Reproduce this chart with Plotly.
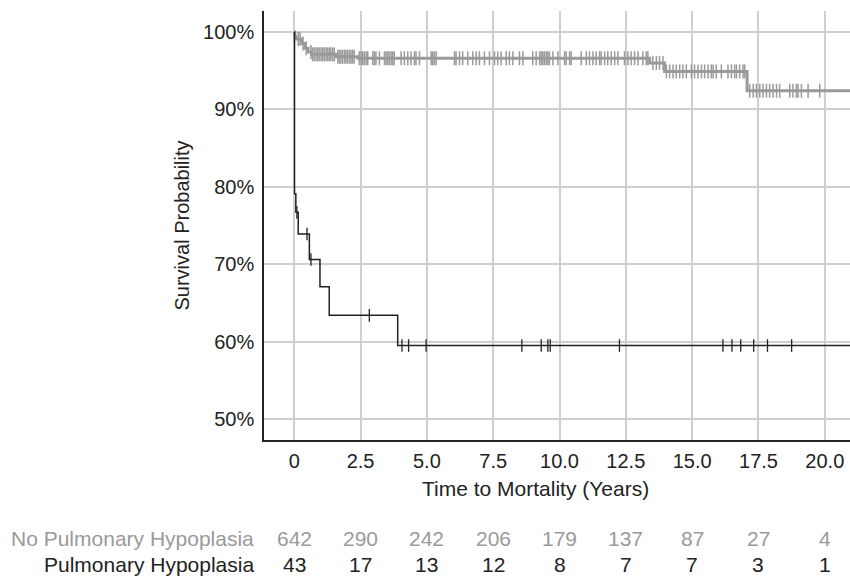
import plotly.graph_objects as go
import numpy as np

# ---- Data ----
time_no_ph = [0, 0.02, 0.06, 0.28, 0.40, 0.52, 0.65, 1.57, 2.40, 13.40, 13.96, 17.07, 21.5]
surv_no_ph = [100, 99.4, 99.1, 98.5, 97.9, 97.4, 97.1, 96.8, 96.6, 96.0, 94.9, 92.4, 92.4]

cens_no_ph = [0.15, 0.22, 0.33, 0.45, 0.63, 0.69, 0.75, 0.82, 0.88, 0.94, 1.01, 1.07, 1.13, 1.20, 1.26,
              1.32, 1.38, 1.45, 1.51, 1.64, 1.70, 1.76, 1.82, 1.89, 1.95, 2.01, 2.08, 2.14, 2.20,
              2.26, 2.45, 2.52, 2.58, 2.64, 2.71, 2.77, 2.96, 3.02, 3.08, 3.21, 3.40, 3.46, 3.52,
              3.58, 3.65, 3.71, 3.77, 4.03, 4.15, 4.28, 4.40, 4.53, 4.59, 4.72, 5.16, 5.22, 5.28,
              5.35, 6.04, 6.10, 6.23, 6.35, 6.54, 6.73, 6.86, 6.98, 7.17, 7.36, 7.55, 7.67, 7.80,
              7.99, 8.11, 8.24, 8.49, 8.62, 8.99, 9.12, 9.25, 9.31, 9.37, 9.43, 9.50, 9.56, 9.62,
              9.75, 9.94, 10.19, 10.25, 10.38, 10.44, 10.82, 11.01, 11.13, 11.26, 11.38, 11.51,
              11.57, 11.70, 11.82, 11.95, 12.08, 12.20, 12.45, 12.58, 12.70, 12.83, 12.96, 13.14,
              13.27, 13.33, 13.52, 13.65, 13.77, 13.90, 14.03, 14.15, 14.28, 14.40, 14.53, 14.65,
              14.78, 14.97, 15.09, 15.22, 15.35, 15.47, 15.60, 15.72, 15.79, 15.91, 16.10, 16.35,
              16.48, 16.60, 16.67, 16.79, 16.92, 16.98, 17.17, 17.30, 17.42, 17.55, 17.67, 17.80,
              17.92, 18.05, 18.18, 18.30, 18.68, 18.80, 18.93, 18.99, 19.12, 19.37, 19.81]

time_ph = [0, 0.01, 0.06, 0.15, 0.57, 0.97, 1.32, 3.90, 21.5]
surv_ph = [100, 79.1, 76.7, 73.9, 70.6, 67.1, 63.4, 59.5, 59.5]

cens_ph = [0.10, 0.48, 0.63, 2.83, 4.06, 4.31, 4.97, 8.58, 9.31, 9.56, 9.65, 12.26,
           16.16, 16.50, 16.83, 17.32, 17.84, 18.75]

risk_times = [0, 2.5, 5.0, 7.5, 10.0, 12.5, 15.0, 17.5, 20.0]
risk_labels = ["0", "2.5", "5.0", "7.5", "10.0", "12.5", "15.0", "17.5", "20.0"]
risk_no_ph = [642, 290, 242, 206, 179, 137, 87, 27, 4]
risk_ph = [43, 17, 13, 12, 8, 7, 7, 3, 1]

y_ticks = [50, 60, 70, 80, 90, 100]
y_labels = ["50%", "60%", "70%", "80%", "90%", "100%"]

x_title = "Time to Mortality (Years)"
y_title = "Survival Probability"

GRAY = "#9a9a9a"
BLACK = "#222222"
FONT = "Liberation Sans, Arial, Helvetica, sans-serif"


def step_value(times, surv, t):
    idx = np.searchsorted(np.array(times), t, side="right") - 1
    return [surv[i] for i in idx]


fig = go.Figure()

fig.add_trace(go.Scatter(x=time_no_ph, y=surv_no_ph, mode="lines", line=dict(color=GRAY, width=3, shape="hv"),
                         showlegend=False, hoverinfo="skip"))
fig.add_trace(go.Scatter(x=cens_no_ph, y=step_value(time_no_ph, surv_no_ph, cens_no_ph), mode="markers",
                         marker=dict(symbol="line-ns", size=10, line=dict(color=GRAY, width=1.5)),
                         showlegend=False, hoverinfo="skip"))
fig.add_trace(go.Scatter(x=time_ph, y=surv_ph, mode="lines", line=dict(color=BLACK, width=1.5, shape="hv"),
                         showlegend=False, hoverinfo="skip"))
fig.add_trace(go.Scatter(x=cens_ph, y=step_value(time_ph, surv_ph, cens_ph), mode="markers",
                         marker=dict(symbol="line-ns", size=9, line=dict(color=BLACK, width=1.3)),
                         showlegend=False, hoverinfo="skip"))

L, T, B = 264, 11, 440           # page coordinates of plot area
W, H = 850, 578
plot_h = B - T
plot_w = W - L

annotations = []
rows = [(risk_no_ph, "No Pulmonary Hypoplasia", GRAY, 538), (risk_ph, "Pulmonary Hypoplasia", BLACK, 564)]
for counts, label, color, ypx in rows:
    yp = (B - ypx) / plot_h
    annotations.append(dict(x=-0.013, y=yp, xref="paper", yref="paper", text=label, showarrow=False,
                            xanchor="right", yanchor="middle", font=dict(size=21, color=color, family=FONT)))
    for t, c in zip(risk_times, counts):
        annotations.append(dict(x=t, y=yp, xref="x", yref="paper", text=str(c), showarrow=False,
                                xanchor="center", yanchor="middle", font=dict(size=21, color=color, family=FONT)))

# x-axis title (placed as annotation to match the original's horizontal position)
annotations.append(dict(x=(535 - L) / plot_w, y=(B - 488) / plot_h, xref="paper", yref="paper",
                        text=x_title, showarrow=False, xanchor="center", yanchor="middle",
                        font=dict(size=21, color=BLACK, family=FONT)))

fig.update_layout(
    width=W, height=H,
    margin=dict(l=L, r=0, t=T, b=H - B),
    plot_bgcolor="white", paper_bgcolor="white",
    font=dict(family=FONT, size=20, color=BLACK),
    annotations=annotations,
    xaxis=dict(range=[-1.14, 20.95], tickvals=risk_times, ticktext=risk_labels,
               showgrid=True, gridcolor="#cfcfcf", gridwidth=1.5, zeroline=False,
               showline=True, linecolor=BLACK, linewidth=1.5,
               ticks="outside", ticklen=2, tickcolor="rgba(0,0,0,0)",
               tickfont=dict(size=20, color=BLACK)),
    yaxis=dict(range=[47.3, 102.7], tickvals=y_ticks, ticktext=y_labels,
               showgrid=True, gridcolor="#cfcfcf", gridwidth=1.5, zeroline=False,
               showline=True, linecolor=BLACK, linewidth=1.5,
               ticks="outside", ticklen=4, tickcolor="rgba(0,0,0,0)",
               tickfont=dict(size=20, color=BLACK),
               title=dict(text=y_title, font=dict(size=20, color=BLACK), standoff=8)),
)

fig.write_html("out.html", config={"displayModeBar": False},
               post_script="document.body.style.margin='0';document.body.style.overflow='hidden';")
